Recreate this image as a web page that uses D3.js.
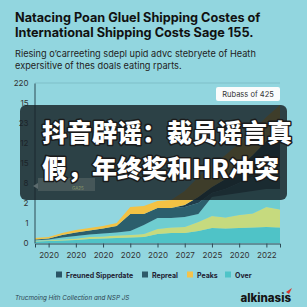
<!DOCTYPE html>
<html>
<head>
<meta charset="utf-8">
<script src="https://cdn.jsdelivr.net/npm/d3@7"></script>
<style>
  html, body { margin: 0; padding: 0; background: #92d6df; }
  svg { display: block; font-family: Inter, "Liberation Sans", sans-serif; }
</style>
</head>
<body>
<div id="chart"></div>
<script>
// chart data
const steps = d3.range(19);
const over     = [.08,.10,.12,.15,.20,.22,.25,.28,.30,.45,.50,.50,.60,.75,.72,.75,.78,.80,.78];
const growth   = [.03,.04,.05,.06,.10,.10,.12,.12,.15,.25,.28,.30,.45,.60,.55,.65,.70,1.0,.90];
const shallow  = [.03,.04,.11,.14,.12,.16,.15,.20,.45,.55,.47,.50,.40,.95,1.13,1.10,1.12,.90,1.02];
const repreal  = [.04,.04,.12,.18,.21,.24,.33,.85,.55,.50,.50,.50,.55,.20,.30,.50,.70,.90,1.1];
const freuned  = [0,0,0,0,0,0,0,0,0,0,0,.10,.30,.30,.50,.80,1.1,1.5,1.9];
const peaks    = [.07,.08,.10,.12,.12,.13,.15,.35,.40,.35,.40,.70,1.0,1.1,1.2,1.2,1.2,1.2,1.2];

const yTickLabels = ['0', '1', '2', '8', '15', '12', '23', '15', '220'];
const xTickSteps = [1, 3, 5, 7, 9, 11, 13, 15, 17];
const xTickLabels = ['2020', '2020', '2020', '2020', '2020', '2027', '2025', '2020', '2022'];
const legendNames = ['Freuned Sipperdate', 'Repreal', 'Peaks', 'Over'];

const W = 307, H = 307;
const svg = d3.select('#chart').append('svg')
    .attr('width', W).attr('height', H);

svg.append('rect').attr('width', W).attr('height', H).attr('fill', '#92d6df');

// titles
svg.append('text').attr('x', 15).attr('y', 22)
    .attr('font-size', 12.7).attr('font-weight', 700).attr('fill', '#111')
    .text('Natacing Poan Gluel Shipping Costes of');
svg.append('text').attr('x', 15).attr('y', 37)
    .attr('font-size', 12.7).attr('font-weight', 700).attr('fill', '#111')
    .text('International Shipping Costs Sage 155.');
svg.append('text').attr('x', 15).attr('y', 57)
    .attr('font-size', 9.2).attr('fill', '#222')
    .text('Riesing o\u2019carreeting sdepl upid adv\u0441 stebryete of Heath');
svg.append('text').attr('x', 15).attr('y', 68.5)
    .attr('font-size', 9.2).attr('fill', '#222')
    .text('expersitive of thes doals eating rparts.');

// scales
const x = d3.scaleLinear().domain([0, 18]).range([35, 280]);
const y = d3.scaleLinear().domain([0, 8]).range([243, 83]);

const table = steps.map(i => ({
    i: i, over: over[i], growth: growth[i], shallow: shallow[i],
    repreal: repreal[i], freuned: freuned[i], peaks: peaks[i]
}));
const keys = ['over', 'growth', 'shallow', 'repreal', 'freuned', 'peaks'];
const colors = {
    over: '#4fc3c7', growth: '#c6da7e', shallow: '#6fcdd0',
    repreal: '#2c5e6c', freuned: '#1f3d4b', peaks: '#f3c244'
};
const series = d3.stack().keys(keys)(table);

const area = d3.area()
    .x(d => x(d.data.i))
    .y0(d => y(d[0]))
    .y1(d => y(d[1]));

// top grid line
svg.append('line').attr('x1', 35).attr('x2', 280)
    .attr('y1', y(8)).attr('y2', y(8))
    .attr('stroke', '#7fbfc8').attr('stroke-width', 1);

svg.append('g').selectAll('path')
    .data(series)
    .join('path')
    .attr('d', area)
    .attr('fill', d => colors[d.key]);

// axes
const yAxis = d3.axisLeft(y)
    .tickValues(d3.range(9))
    .tickSize(0)
    .tickPadding(6)
    .tickFormat(d => yTickLabels[d]);
const gy = svg.append('g').attr('transform', 'translate(34.5,0)').call(yAxis);
gy.select('.domain').attr('stroke', '#2d4a55');
gy.selectAll('text').attr('font-size', 8).attr('fill', '#333')
    .attr('font-family', 'Inter, sans-serif');

const xAxis = d3.axisBottom(x)
    .tickValues(xTickSteps)
    .tickSize(4)
    .tickPadding(5)
    .tickFormat((d, i) => xTickLabels[i]);
const gx = svg.append('g').attr('transform', 'translate(0,243.5)').call(xAxis);
gx.select('.domain').attr('stroke', '#2d4a55');
gx.selectAll('line').attr('stroke', '#2d4a55');
gx.selectAll('text').attr('font-size', 8).attr('fill', '#333')
    .attr('font-family', 'Inter, sans-serif');

// tooltip
svg.append('rect').attr('x', 216).attr('y', 87).attr('width', 64).attr('height', 14)
    .attr('rx', 2).attr('fill', '#fafcfc');
svg.append('text').attr('x', 248).attr('y', 97).attr('text-anchor', 'middle')
    .attr('font-size', 7.5).attr('fill', '#333').text('Rubass of 425');

// overlay banner
svg.append('rect').attr('x', 20).attr('y', 105).attr('width', 267).attr('height', 95)
    .attr('rx', 6).attr('fill', 'rgba(22,32,36,0.82)');
svg.append('path').attr('d', 'M33,186 L38,183 L38,189 Z').attr('fill', '#5d6b6e');
svg.append('rect').attr('x', 38).attr('y', 178).attr('width', 57).attr('height', 13)
    .attr('fill', 'rgba(120,130,125,0.35)');
svg.append('text').attr('x', 72).attr('y', 190).attr('font-size', 4.5)
    .attr('fill', '#8a9a6a').text('GA25');

const cn = svg.append('g')
    .attr('font-family', '"Noto Sans CJK SC", sans-serif')
    .attr('font-weight', 900).attr('font-size', 25)
    .attr('fill', '#fff').attr('stroke', '#1b1b1b').attr('stroke-width', 3)
    .attr('paint-order', 'stroke').attr('stroke-linejoin', 'round');
cn.append('text').attr('x', 42).attr('y', 142).text('抖音辟谣：裁员谣言真');
cn.append('text').attr('x', 42).attr('y', 178).text('假，年终奖和HR冲突');

// legend
const legendX = [56, 142, 187, 225];
const legendColors = ['#2a5566', '#2d5a6a', '#f5c34a', '#4fc4c8'];
const lg = svg.append('g').selectAll('g')
    .data(legendNames)
    .join('g')
    .attr('transform', (d, i) => `translate(${legendX[i]},271.5)`);
lg.append('rect').attr('width', 6).attr('height', 6)
    .attr('fill', (d, i) => legendColors[i]);
lg.append('text').attr('x', 10).attr('y', 6)
    .attr('font-size', 7).attr('font-weight', 700).attr('fill', '#223')
    .text(d => d);

// footer
svg.append('text').attr('x', 15).attr('y', 300)
    .attr('font-size', 6.3).attr('font-style', 'italic').attr('fill', '#2d4450')
    .text('Trucmoing Hith Collection and NSP JS');
svg.append('text').attr('x', 291).attr('y', 302).attr('text-anchor', 'end')
    .attr('font-size', 11.5).attr('font-weight', 800).attr('fill', '#151515')
    .text('alkinasis');
svg.append('path').attr('d', 'M286,292 L292,288 L289,294 Z').attr('fill', '#d8342c');
</script>
</body>
</html>
